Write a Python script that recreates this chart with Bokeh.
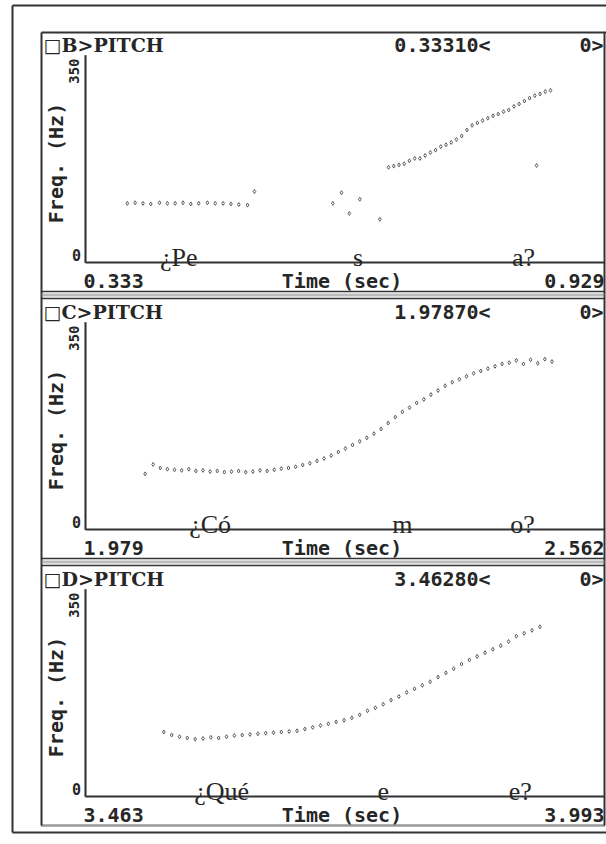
import math
from bokeh.plotting import figure
from bokeh.models import Range1d
from bokeh.embed import file_html
from bokeh.resources import INLINE
from bokeh.core.properties import value

# ---- pitch tracks: time (s) and F0 (Hz) for each utterance ----
b_time = [0.381, 0.390, 0.399, 0.408, 0.418, 0.427, 0.436, 0.445, 0.454, 0.463,
          0.473, 0.482, 0.491, 0.500, 0.509, 0.519, 0.527,
          0.617, 0.627, 0.636, 0.648, 0.671,
          0.681, 0.687, 0.693, 0.699, 0.705, 0.711, 0.717, 0.723, 0.729, 0.735,
          0.741, 0.747, 0.753, 0.759, 0.765, 0.771, 0.777, 0.783, 0.789, 0.795,
          0.801, 0.807, 0.813, 0.819, 0.825, 0.831, 0.837, 0.843, 0.849, 0.855,
          0.861, 0.867, 0.851]
b_freq = [100, 101, 100, 99, 101, 100, 100, 101, 99, 100,
          101, 100, 100, 99, 98, 97, 120,
          100, 118, 83, 107, 73,
          161, 163, 165, 167, 172, 176, 176, 181, 186, 190,
          196, 199, 203, 208, 214, 224, 232, 236, 240, 244,
          248, 251, 255, 258, 264, 268, 273, 278, 282, 285,
          289, 291, 164]

c_time = [2.046, 2.055, 2.063, 2.071, 2.079, 2.087, 2.095, 2.103, 2.111, 2.119,
          2.127, 2.135, 2.143, 2.151, 2.159, 2.167, 2.175, 2.183, 2.191, 2.199,
          2.207, 2.215, 2.223, 2.231, 2.239, 2.247, 2.255, 2.263, 2.271, 2.279,
          2.287, 2.295, 2.303, 2.311, 2.319, 2.327, 2.335, 2.343, 2.351, 2.359,
          2.367, 2.375, 2.383, 2.391, 2.399, 2.407, 2.415, 2.423, 2.431, 2.439,
          2.447, 2.455, 2.463, 2.471, 2.479, 2.487, 2.495, 2.503]
c_freq = [94, 110, 104, 102, 101, 100, 102, 99, 100, 98,
          99, 97, 98, 99, 97, 98, 100, 99, 101, 103,
          104, 106, 109, 112, 116, 120, 125, 131, 137, 143,
          149, 155, 162, 170, 180, 190, 199, 206, 214, 220,
          228, 235, 243, 249, 254, 259, 264, 268, 272, 276,
          280, 282, 286, 280, 287, 281, 288, 284]

d_time = [3.543, 3.551, 3.559, 3.567, 3.575, 3.583, 3.591, 3.599, 3.607, 3.615,
          3.623, 3.631, 3.639, 3.647, 3.655, 3.663, 3.671, 3.679, 3.687, 3.695,
          3.703, 3.711, 3.719, 3.727, 3.735, 3.743, 3.751, 3.759, 3.767, 3.775,
          3.783, 3.791, 3.799, 3.807, 3.815, 3.823, 3.831, 3.839, 3.847, 3.855,
          3.863, 3.871, 3.879, 3.887, 3.895, 3.903, 3.911, 3.919, 3.927]
d_freq = [109, 104, 101, 99, 97, 98, 100, 99, 101, 103,
          104, 105, 106, 107, 108, 109, 110, 111, 114, 117,
          120, 123, 126, 129, 133, 138, 145, 150, 156, 163,
          169, 176, 182, 188, 194, 202, 209, 216, 224, 231,
          237, 243, 249, 255, 262, 271, 276, 281, 287]

panel_names = ["\u25a1B>PITCH", "\u25a1C>PITCH", "\u25a1D>PITCH"]
cursor_readouts = ["0.33310<", "1.97870<", "3.46280<"]
marker_readouts = ["0>", "0>", "0>"]
time_starts = [0.333, 1.979, 3.463]
time_ends = [0.929, 2.562, 3.993]
tick_start_labels = ["0.333", "1.979", "3.463"]
tick_end_labels = ["0.929", "2.562", "3.993"]
freq_min, freq_max = 0, 350
freq_tick_labels = ["0", "350"]
x_title = "Time (sec)"
y_title = "Freq. (Hz)"
word_labels = [["\u00bfPe", "s", "a?"], ["\u00bfC\u00f3", "m", "o?"], ["\u00bfQu\u00e9", "e", "e?"]]
word_times = [[0.440, 0.646, 0.836], [2.119, 2.335, 2.470], [3.602, 3.767, 3.907]]
tracks = [(b_time, b_freq), (c_time, c_freq), (d_time, d_freq)]

# ---- page geometry (screen pixels) ----
W, H = 606, 844
PLOT_L, PLOT_R = 85, 604
PANEL_L = 41
PANEL_TOPS = [32, 299, 566]
PLOT_TOP_OFF, PLOT_BOT_OFF = 23, 230
INK = "#262626"
LINE = "#333333"
DOT = "#5a5a5a"
MONO = value("DejaVu Sans Mono")
SERIF = value("Liberation Serif")

p = figure(width=W, height=H, x_range=Range1d(0, W), y_range=Range1d(H, 0),
           output_backend="svg", toolbar_location=None, min_border=0,
           x_axis_type=None, y_axis_type=None)
p.grid.visible = False
p.outline_line_color = None
p.background_fill_color = "white"
p.border_fill_color = "white"

# outer page frame
p.segment(x0=[12, 12, 12], y0=[5, 5, 832], x1=[W, 12, W], y1=[5, 832, 832],
          line_color=LINE, line_width=2)
# panel stack frame
bottom = PANEL_TOPS[-1] + 259
p.segment(x0=[PANEL_L, PANEL_L, PLOT_R], y0=[PANEL_TOPS[0]] * 3,
          x1=[W, PANEL_L, PLOT_R], y1=[PANEL_TOPS[0], bottom, bottom],
          line_color=LINE, line_width=2)
p.segment(x0=[PANEL_L], y0=[bottom], x1=[PLOT_R], y1=[bottom],
          line_color=LINE, line_width=2.5, line_dash="1 1")

for i, top in enumerate(PANEL_TOPS):
    t0, t1 = time_starts[i], time_ends[i]
    ptop, pbot = top + PLOT_TOP_OFF, top + PLOT_BOT_OFF
    s = (t1 - t0) / (PLOT_R - PLOT_L)
    k = (freq_max - freq_min) / (pbot - ptop)
    xr, yr = f"t{i}", f"f{i}"
    p.extra_x_ranges[xr] = Range1d(t0 - PLOT_L * s, t1 + (W - PLOT_R) * s)
    p.extra_y_ranges[yr] = Range1d(freq_min - (H - pbot) * k, freq_max + ptop * k)
    rn = dict(x_range_name=xr, y_range_name=yr)

    # separator band under the panel
    if i < len(PANEL_TOPS) - 1:
        sy = top + 259
        p.segment(x0=[PANEL_L, PANEL_L], y0=[sy, sy + 7], x1=[PLOT_R, PLOT_R], y1=[sy, sy + 7],
                  line_color=LINE, line_width=1.5)
        p.segment(x0=[PANEL_L], y0=[sy + 3.5], x1=[PLOT_R], y1=[sy + 3.5],
                  line_color="#777777", line_width=3, line_dash="1 1")

    # axes
    p.segment(x0=[t0], y0=[freq_min], x1=[t0], y1=[freq_max], line_color=LINE,
              line_width=1.2, **rn)
    p.segment(x0=[t0], y0=[freq_min], x1=[t0], y1=[freq_max], line_color=LINE,
              line_width=3, line_dash="1 1", **rn)
    p.segment(x0=[t0], y0=[freq_min], x1=[t1], y1=[freq_min], line_color=LINE,
              line_width=2, **rn)

    # pitch points
    tx, fy = tracks[i]
    p.scatter(x=tx, y=fy, marker="diamond", size=4, fill_color=None,
              line_color=DOT, line_width=1, **rn)

    # header line
    p.text(x=[t0], y=[freq_max], text=[panel_names[i]], x_offset=-42, y_offset=-11,
           text_font=value("DejaVu Serif"), text_font_style="bold", text_font_size="19px",
           text_align="left", text_baseline="middle", text_color=INK, **rn)
    p.text(x=[t1], y=[freq_max], text=[cursor_readouts[i]], x_offset=-162, y_offset=-11,
           text_font=MONO, text_font_style="bold", text_font_size="20px",
           text_align="center", text_baseline="middle", text_color=INK, **rn)
    p.text(x=[t1], y=[freq_max], text=[marker_readouts[i]], x_offset=-1, y_offset=-11,
           text_font=MONO, text_font_style="bold", text_font_size="20px",
           text_align="right", text_baseline="middle", text_color=INK, **rn)

    # frequency axis labels
    p.text(x=[t0], y=[freq_max], text=[freq_tick_labels[1]], x_offset=-12, y_offset=3,
           angle=math.pi / 2, text_font=MONO, text_font_style="bold", text_font_size="14px",
           text_align="right", text_baseline="middle", text_color=INK, **rn)
    p.text(x=[t0], y=[freq_min], text=[freq_tick_labels[0]], x_offset=-9, y_offset=-8,
           text_font=MONO, text_font_style="bold", text_font_size="15px",
           text_align="center", text_baseline="middle", text_color=INK, **rn)
    p.text(x=[t0], y=[(freq_min + freq_max) / 2], text=[y_title], x_offset=-30, y_offset=4,
           angle=math.pi / 2, text_font=MONO, text_font_style="bold", text_font_size="20px",
           text_align="center", text_baseline="middle", text_color=INK, **rn)

    # time axis labels
    p.text(x=[t0], y=[freq_min], text=[tick_start_labels[i]], x_offset=-2, y_offset=18,
           text_font=MONO, text_font_style="bold", text_font_size="20px",
           text_align="left", text_baseline="middle", text_color=INK, **rn)
    p.text(x=[t1], y=[freq_min], text=[tick_end_labels[i]], x_offset=0, y_offset=18,
           text_font=MONO, text_font_style="bold", text_font_size="20px",
           text_align="right", text_baseline="middle", text_color=INK, **rn)
    p.text(x=[(t0 + t1) / 2], y=[freq_min], text=[x_title], x_offset=-3, y_offset=18,
           text_font=MONO, text_font_style="bold", text_font_size="20px",
           text_align="center", text_baseline="middle", text_color=INK, **rn)

    # segment labels
    p.text(x=word_times[i], y=[freq_min] * 3, text=word_labels[i], y_offset=-5,
           text_font=SERIF, text_font_size="26px", text_align="center",
           text_baseline="alphabetic", text_color=INK, **rn)

open("out.html", "w").write(file_html(p, INLINE))
